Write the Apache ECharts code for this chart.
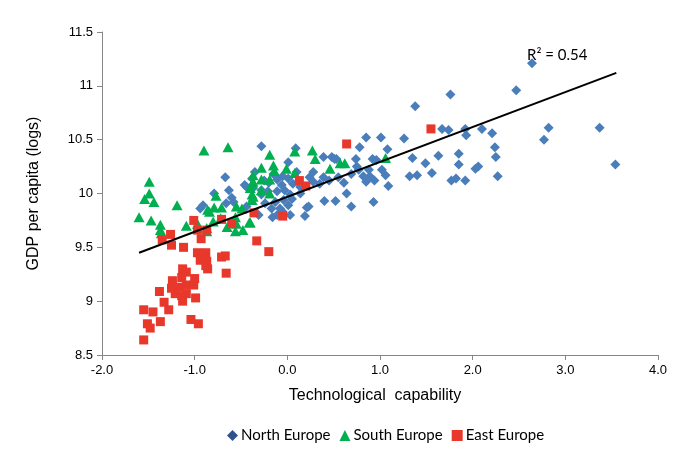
<!DOCTYPE html>
<html><head><meta charset="utf-8">
<script src="https://cdn.jsdelivr.net/npm/echarts@6/dist/echarts.min.js"></script>
<style>html,body{margin:0;padding:0;background:#fff}#c{width:685px;height:459px}</style>
</head><body><div id="c"></div>
<script>
const xTicks = ['-2.0','-1.0','0.0','1.0','2.0','3.0','4.0'];
const yTicks = ['8.5','9','9.5','10','10.5','11','11.5'];
const seriesNames = ['North Europe','South Europe','East Europe'];
const north = [
[2.64,11.21],[2.47,10.96],[1.76,10.92],[1.38,10.81],[2.82,10.61],[2.77,10.50],[3.37,10.61],[3.54,10.27],
[1.67,10.60],[1.74,10.59],[1.92,10.60],[1.93,10.54],[2.10,10.60],[2.21,10.56],[2.24,10.43],[2.25,10.34],
[1.35,10.33],[1.49,10.28],[1.63,10.35],[1.85,10.37],[1.85,10.27],[1.32,10.16],[1.40,10.17],[1.56,10.19],
[2.03,10.23],[2.06,10.25],[1.77,10.12],[1.82,10.14],[1.92,10.12],[2.27,10.16],
[0.85,10.52],[1.01,10.52],[1.26,10.51],[0.78,10.43],[1.08,10.41],[0.39,10.34],[0.48,10.34],[0.51,10.32],[0.74,10.32],[0.92,10.32],[0.96,10.31],
[0.28,10.20],[0.77,10.22],[0.88,10.22],[1.02,10.22],[1.06,10.17],[0.24,10.15],[0.28,10.11],[0.39,10.15],[0.35,10.09],[0.69,10.18],[0.82,10.16],[0.89,10.16],[0.85,10.11],[0.94,10.12],[1.09,10.07],[0.61,10.10],[0.64,10.0],[0.17,10.05],[0.14,10.0],[0.23,9.88],[0.40,9.93],[0.52,9.93],[0.69,9.88],[0.93,9.92],[0.19,9.79],
[-0.28,10.44],[0.09,10.42],[0.01,10.29],[-0.67,10.15],[-0.44,10.06],
[-0.11,10.13],[-0.06,10.08],[0.01,10.14],[0.06,10.09],[0.14,10.06],[-0.03,10.03],[-0.11,10.02],[-0.21,10.02],[-0.28,9.99],[0.03,9.99],[-0.04,9.94],[-0.13,9.92],[-0.24,9.91],[-0.17,9.86],[-0.08,9.86],[0.01,9.89],[-0.11,9.80],[-0.16,9.78],[0.03,9.80],[0.21,9.87],[-0.31,9.80],[-0.44,9.88],
[-0.79,10.0],[-0.63,10.03],[-0.60,9.96],[-0.58,9.92],[-0.66,9.91],[-0.91,9.89],[-0.94,9.86],[-0.38,10.14],[-0.35,10.20],[-0.28,10.03],[-0.46,10.08],[-0.37,10.05],
[0.45,10.12],[0.55,10.15],[0.75,10.25],[-0.05,10.16],[-0.20,10.10],[0.10,10.20],[0.12,10.10],[-0.15,10.18],[-0.05,9.83],[0.05,9.95],[-0.25,10.12],[0.53,10.32]
];
const south = [
[-0.90,10.40],[-0.64,10.43],[-1.49,10.11],[-1.49,10.0],[-1.54,9.95],[-1.44,9.92],[-1.19,9.89],[-1.60,9.78],[-1.47,9.75],[-1.37,9.71],[-1.37,9.66],[-1.36,9.63],[-1.09,9.70],[-0.97,9.72],[-0.87,9.65],[-0.86,9.85],
[-0.19,10.36],[0.08,10.39],[0.27,10.40],[0.30,10.32],[0.46,10.23],[0.57,10.28],[0.62,10.28],[1.06,10.33],
[-0.28,10.24],[-0.15,10.26],[-0.01,10.23],[0.08,10.19],[-0.37,10.17],[-0.37,10.11],[-0.19,10.0],[-0.38,9.99],[-0.40,9.73],
[-0.14,10.21],[-0.38,10.09],[-0.28,10.13],[-0.19,10.13],[-0.40,10.05],[-0.28,10.03],[-0.37,9.97],[-0.38,9.94],
[-0.77,9.98],[-0.84,9.83],[-0.79,9.87],[-0.71,9.87],[-0.55,9.88],[-0.49,9.86],[-0.56,9.78],[-0.72,9.77],[-0.80,9.74],[-0.65,9.69],[-0.55,9.72],[-0.41,9.73],[-0.56,9.65],[-0.48,9.66],[-0.87,9.68]
];
const east = [
[0.64,10.46],[1.55,10.60],[0.13,10.12],[0.20,10.07],[-0.05,9.79],[-0.36,9.82],[-0.33,9.56],[-0.20,9.46],
[-1.01,9.75],[-0.71,9.76],[-0.60,9.72],[-1.26,9.62],[-1.35,9.57],[-1.25,9.52],[-1.12,9.50],[-0.97,9.66],[-0.87,9.66],[-0.93,9.58],
[-0.97,9.45],[-0.88,9.45],[-0.94,9.38],[-0.87,9.37],[-0.86,9.30],[-0.88,9.33],[-0.71,9.41],[-0.67,9.42],[-0.66,9.26],
[-1.13,9.30],[-1.09,9.27],[-1.24,9.19],[-1.00,9.21],[-1.14,9.22],[-1.25,9.12],[-1.17,9.13],[-1.09,9.15],[-1.01,9.15],
[-1.38,9.09],[-1.21,9.07],[-1.14,9.05],[-1.09,9.07],[-1.13,9.00],[-0.99,9.03],[-1.33,8.99],[-1.28,8.92],[-1.55,8.92],[-1.45,8.90],[-1.37,8.81],[-1.51,8.79],[-1.48,8.75],[-1.04,8.83],[-0.96,8.79],[-1.55,8.64]
];
const trendX = [-1.6, 3.55];
const trendY = [9.45, 11.12];
const r2Text = 'R\u00b2 = 0.54';

const chart = echarts.init(document.getElementById('c'), null, {renderer:'canvas'});
const axisCol = '#868686';
chart.setOption({
  animation:false,
  grid:{left:102,right:27,top:32,bottom:104,containLabel:false},
  xAxis:{type:'value',min:-2,max:4,interval:1,
    name:'Technological  capability',nameLocation:'middle',nameGap:33,
    nameTextStyle:{fontFamily:'Liberation Sans',fontSize:16,color:'#000',padding:[0,10,0,0]},
    axisLine:{show:true,onZero:false,lineStyle:{color:axisCol}},
    axisTick:{show:true,length:5,lineStyle:{color:axisCol}},
    splitLine:{show:false},
    axisLabel:{margin:9,fontFamily:'Liberation Sans Narrow, Liberation Sans',fontSize:13,color:'#000',
      formatter:(v)=>xTicks[Math.round(v+2)]}},
  yAxis:{type:'value',min:8.5,max:11.5,interval:0.5,
    name:'GDP per capita (logs)',nameLocation:'middle',nameGap:60,
    nameTextStyle:{fontFamily:'Liberation Sans',fontSize:16,color:'#000'},
    axisLine:{show:true,onZero:false,lineStyle:{color:axisCol}},
    axisTick:{show:true,length:5,lineStyle:{color:axisCol}},
    splitLine:{show:false},
    axisLabel:{margin:9,fontFamily:'Liberation Sans Narrow, Liberation Sans',fontSize:13,color:'#000',
      formatter:(v)=>yTicks[Math.round((v-8.5)*2)]}},
  legend:{left:222,top:423,itemGap:9,itemWidth:11,itemHeight:11,
    textStyle:{fontFamily:'Lato, Open Sans',fontSize:15,color:'#000',padding:[0,0,0,-2]},
    data:[
      {name:seriesNames[0],icon:'diamond',itemStyle:{color:'#2F528F'}},
      {name:seriesNames[1],icon:'triangle',itemStyle:{color:'#00B050'}},
      {name:seriesNames[2],icon:'rect',itemStyle:{color:'#E8382B'}}
    ]},
  graphic:[{type:'text',left:527,top:48,style:{text:r2Text,font:'15px Lato, "Open Sans"',fill:'#000'}}],
  series:[
    {name:seriesNames[0],type:'scatter',data:north,symbol:'diamond',symbolSize:[10,10],
      itemStyle:{color:'#4A7EBB',opacity:1}},
    {name:seriesNames[1],type:'scatter',data:south,symbol:'triangle',symbolSize:[11,10],
      itemStyle:{color:'#00B050',opacity:1}},
    {name:seriesNames[2],type:'scatter',data:east,symbol:'rect',symbolSize:[9,9],
      itemStyle:{color:'#E8382B',opacity:1}},
    {type:'line',data:trendX.map((x,i)=>[x,trendY[i]]),symbol:'none',silent:true,
      lineStyle:{color:'#000',width:2},z:5}
  ]
});
</script></body></html>
